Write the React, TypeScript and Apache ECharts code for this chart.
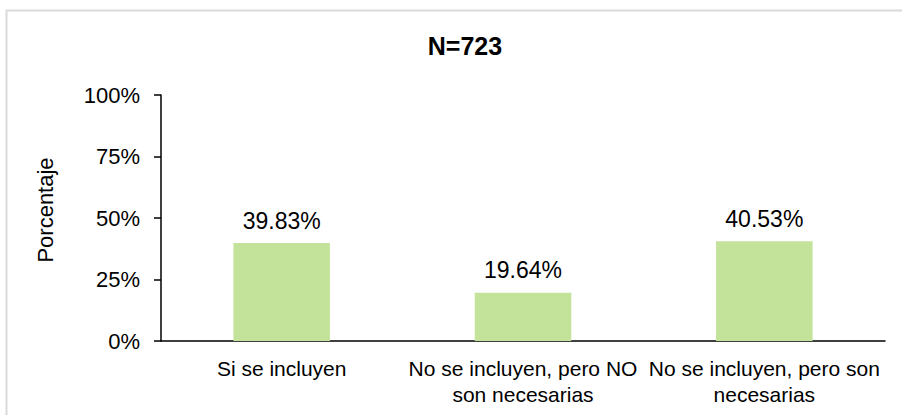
import React, { useEffect, useRef } from "react";
import * as echarts from "echarts";

const titleText = "N=723";
const categories = [
  "Si se incluyen",
  "No se incluyen, pero NO\nson necesarias",
  "No se incluyen, pero son\nnecesarias",
];
const values = [39.83, 19.64, 40.53];
const yTicks = [0, 25, 50, 75, 100];
const yAxisName = "Porcentaje";

export default function App() {
  const ref = useRef<HTMLDivElement>(null);
  useEffect(() => {
    document.body.style.margin = "0";
    const chart = echarts.init(ref.current!, null, { renderer: "svg" });
    const font = "Arial, 'Liberation Sans', sans-serif";
    chart.setOption({
      animation: false,
      backgroundColor: "#fff",
      textStyle: { fontFamily: font },
      title: {
        text: titleText,
        left: 460,
        textAlign: "center",
        top: 28,
        textStyle: { fontFamily: font, fontSize: 25, fontWeight: "bold", color: "#000" },
      },
      graphic: [
        {
          type: "rect",
          shape: { x: 6.5, y: 10.5, width: 1000, height: 1000 },
          style: { fill: "none", stroke: "#D9D9D9", lineWidth: 2 },
          silent: true,
        },
        {
          type: "text",
          x: 45,
          y: 210,
          rotation: Math.PI / 2,
          silent: true,
          style: {
            text: yAxisName,
            fill: "#000",
            font: `22px ${font}`,
            align: "center",
            verticalAlign: "middle",
          },
        },
      ],
      grid: { left: 161, right: 17, top: 95, bottom: 74, containLabel: false },
      xAxis: {
        type: "category",
        data: categories,
        axisLine: { show: true, lineStyle: { color: "#000", width: 1.5 } },
        axisTick: { show: false },
        axisLabel: {
          color: "#000",
          fontSize: 21,
          fontFamily: font,
          margin: 14,
          lineHeight: 26,
          interval: 0,
        },
      },
      yAxis: {
        type: "value",
        min: yTicks[0],
        max: yTicks[yTicks.length - 1],
        interval: 25,
        axisLine: { show: true, lineStyle: { color: "#000", width: 1.5 } },
        axisTick: { show: true, inside: false, length: 7, lineStyle: { color: "#000", width: 1.5 } },
        splitLine: { show: false },
        axisLabel: {
          color: "#000",
          fontSize: 22,
          fontFamily: font,
          margin: 21,
          formatter: (v: number) => v + "%",
        },
      },
      series: [
        {
          type: "bar",
          data: values,
          barWidth: "40%",
          itemStyle: { color: "#C3E29A" },
          label: {
            show: true,
            position: "top",
            distance: 11,
            color: "#000",
            fontSize: 23,
            fontFamily: font,
            formatter: (p: any) => p.value.toFixed(2) + "%",
          },
        },
      ],
    });
    return () => chart.dispose();
  }, []);
  return (
    <div
      ref={ref}
      style={{ position: "fixed", left: 0, top: 0, width: 902, height: 415 }}
    />
  );
}
